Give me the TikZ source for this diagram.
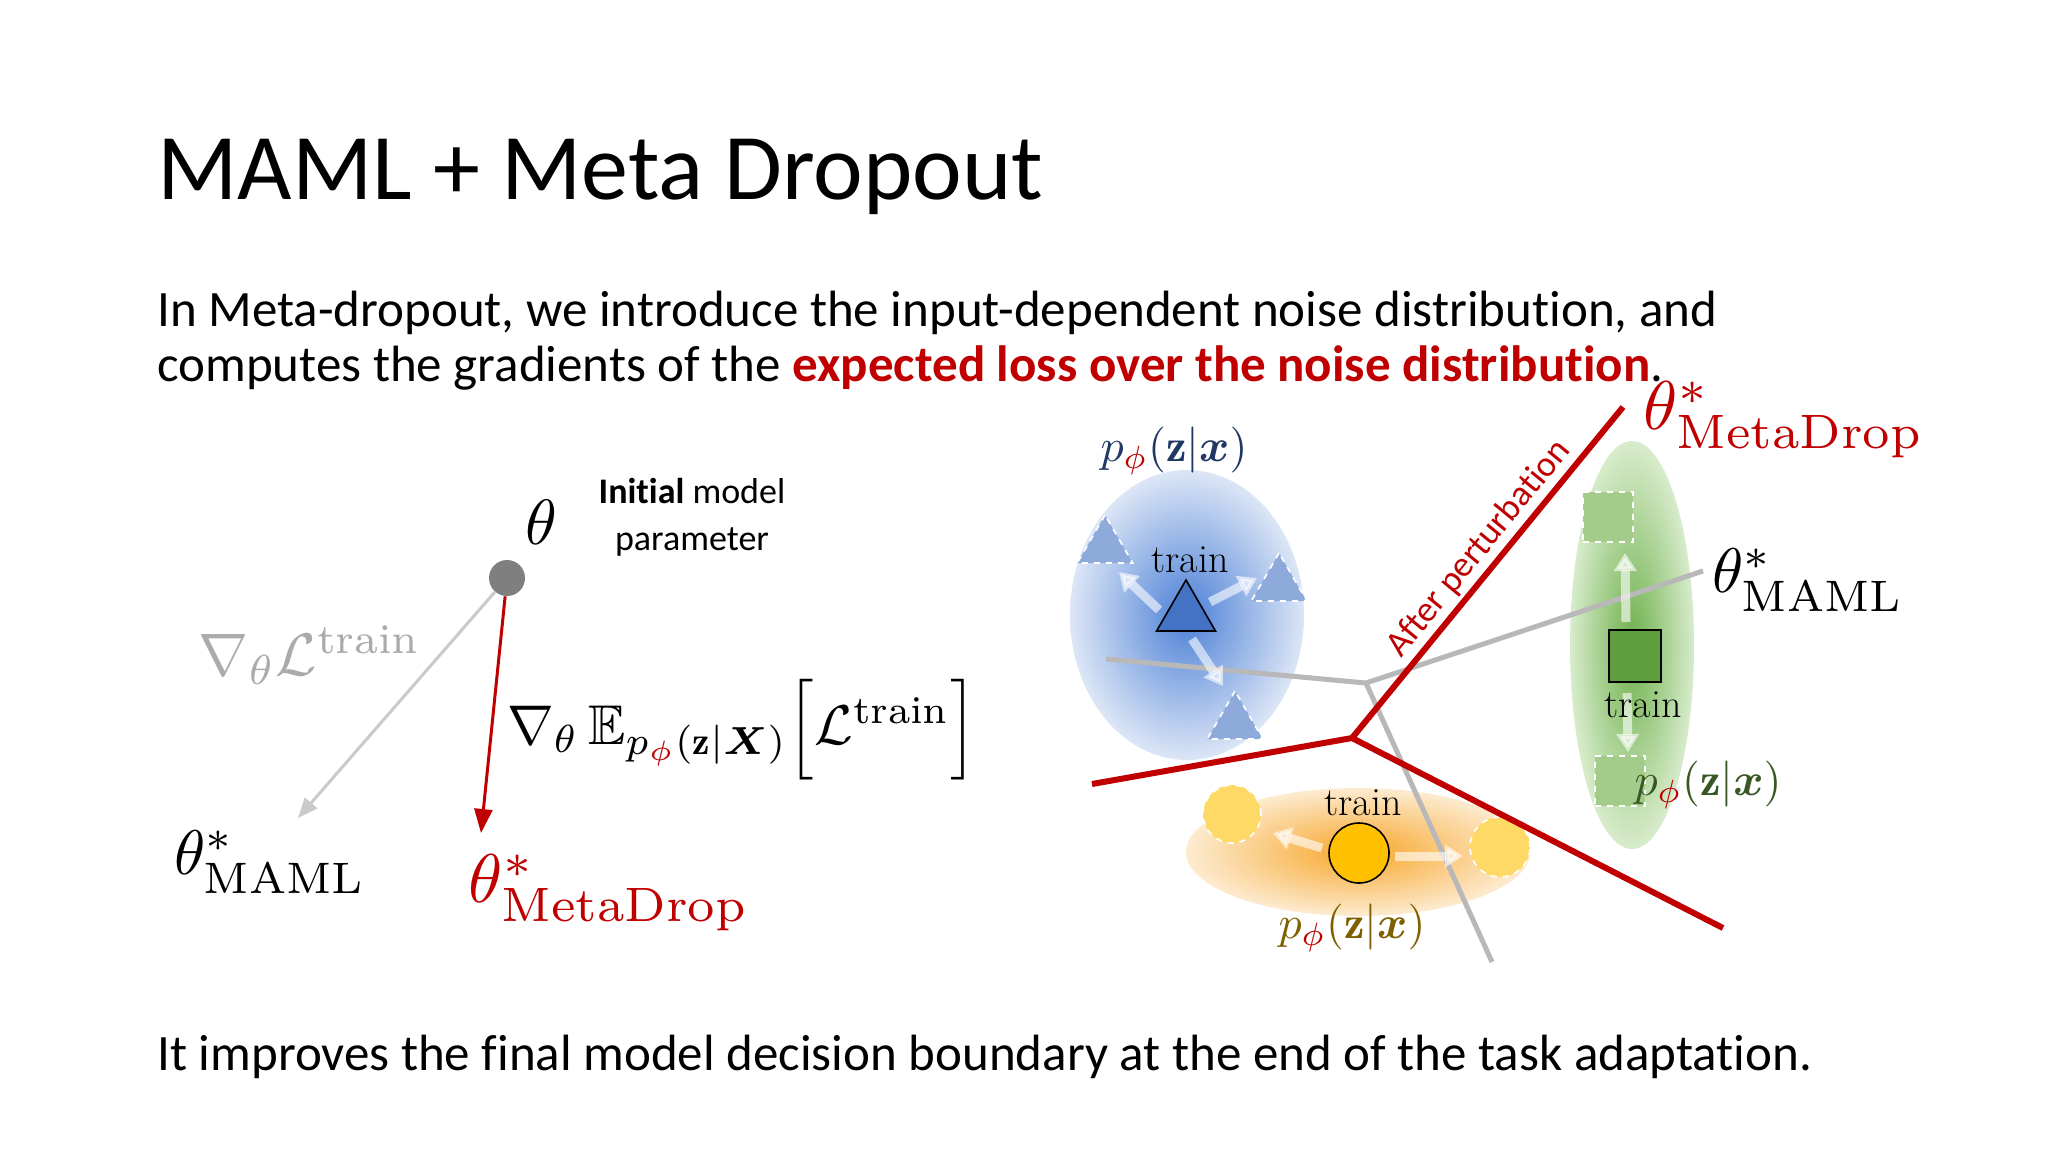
\documentclass[tikz,border=0pt]{standalone}
\usepackage{amsmath,amssymb,bm}
\usepackage{fontspec}
\usetikzlibrary{arrows.meta,shapes.geometric}
\newfontfamily\carlito{Carlito}[Ligatures=NoCommon]
\definecolor{dred}{HTML}{C00000}
\definecolor{navyl}{HTML}{1F3864}
\definecolor{dgreen}{HTML}{385723}
\definecolor{olivel}{HTML}{7F6000}
\definecolor{arrgray}{HTML}{CACACA}
\definecolor{labgray}{HTML}{ABABAB}
\definecolor{bndgray}{HTML}{B8B8B8}
\definecolor{dotgray}{HTML}{7F7F7F}
\definecolor{bluein}{HTML}{4C80D6}
\definecolor{blueout}{HTML}{DCE6F6}
\definecolor{greenin}{HTML}{6EB04C}
\definecolor{greenout}{HTML}{D8ECCC}
\definecolor{orangein}{HTML}{F7A62A}
\definecolor{orangeout}{HTML}{FDEBD0}
\definecolor{trifill}{HTML}{4472C4}
\definecolor{trifade}{HTML}{8EAADB}
\definecolor{sqfill}{HTML}{5E9E3E}
\definecolor{sqfade}{HTML}{A3CC8A}
\definecolor{cifill}{HTML}{FFC000}
\definecolor{cifade}{HTML}{FFD966}
\begin{document}
\begin{tikzpicture}[x=0.5pt,y=-0.5pt,
  titlef/.style={font=\carlito\fontsize{47}{57}\selectfont, anchor=base west, inner sep=0pt},
  bodyf/.style={font=\carlito\fontsize{25.5}{31}\selectfont, anchor=base west, inner sep=0pt},
  smallf/.style={font=\carlito\fontsize{18}{23.5}\selectfont, inner sep=0pt},
  mbig/.style={scale=3.45, inner sep=0pt},
  mmaml/.style={scale=3.15, inner sep=0pt},
  mmid/.style={scale=3.2, inner sep=0pt},
  mlab/.style={scale=2.3, inner sep=0pt},
  trainf/.style={font=\fontsize{20}{24}\selectfont, inner sep=0pt},
  bnd/.style={line width=2.5pt, bndgray},
  rbnd/.style={line width=3pt, dred},
  fadearr/.style={white, opacity=0.6, line width=4.5pt, -{Triangle[length=9pt,width=11pt]}},
  tri/.style={regular polygon, regular polygon sides=3, inner sep=0pt},
]
\useasboundingbox (0,0) rectangle (2048,1152);
\fill[white] (0,0) rectangle (2048,1152);

% ---------- texts ----------
\node[titlef] (title) at (157,199) {MAML + Meta Dropout};
\node[bodyf] (l1) at (157,326) {In Meta-dropout, we introduce the input-dependent noise distribution, and};
\node[bodyf] (l2) at (157,381) {computes the gradients of the {\color{dred}\bfseries expected loss over the noise distribution}.};
\node[bodyf] (l3) at (157,1070) {It improves the final model decision boundary at the end of the task adaptation.};

% ---------- left part ----------
\node[circle, fill=dotgray, minimum size=18pt, inner sep=0pt] (dot) at (507,578) {};
\node[mmid] (theta) at (541,522) {$\theta$};
\node[smallf, align=center] (init) at (692,517) {\textbf{Initial} model\\parameter};
\coordinate (gtip) at (298,818);
\coordinate (rtip) at (481,833);
\draw[arrgray, line width=1.5pt, -{Triangle[length=10pt,width=8pt]}] (dot) -- (gtip);
\draw[dred, line width=1.5pt, -{Triangle[length=12pt,width=9pt]}] (dot) -- (rtip);
\node[scale=3.0, inner sep=0pt, labgray] (glab) at (310,655) {$\nabla_{\theta}\mathcal{L}^{\mathrm{train}}$};
\node[scale=2.8, inner sep=0pt] (rlab) at (742,730) {$\nabla_{\theta}\,\mathbb{E}_{p_{\textcolor{dred}{\phi}}(\mathbf{z}|\boldsymbol{X})}\Big[\mathcal{L}^{\mathrm{train}}\Big]$};
\node[mmaml] (tmaml) at (270,862) {$\theta^{*}_{\mathrm{MAML}}$};
\node[mbig, dred] (tmeta) at (609,893) {$\theta^{*}_{\mathrm{MetaDrop}}$};

% ---------- right part: distributions ----------
\shade[inner color=bluein, outer color=blueout] (1187,615) ellipse [x radius=58.5pt, y radius=72.5pt];
\shade[inner color=greenin, outer color=greenout] (1632,645) ellipse [x radius=31pt, y radius=102pt];
\shade[inner color=orangein, outer color=orangeout] (1358,852) ellipse [x radius=86pt, y radius=32pt];

% boundaries
\coordinate (gJ) at (1366,683);
\coordinate (gL) at (1106,659);
\coordinate (gR) at (1703,571);
\coordinate (gB) at (1492,962);
\draw[bnd] (gL) -- (gJ) -- (gR);
\draw[bnd] (gJ) -- (gB);

% blue cluster
\node[tri, minimum size=32pt, fill=trifade, draw=white, dashed, line width=0.8pt] (bt1) at (1105,547) {};
\node[tri, minimum size=32pt, fill=trifade, draw=white, dashed, line width=0.8pt] (bt2) at (1279,585) {};
\node[tri, minimum size=32pt, fill=trifade, draw=white, dashed, line width=0.8pt] (bt3) at (1235,723) {};
\node[tri, minimum size=34pt, fill=trifill, draw=black, line width=0.8pt] (bmain) at (1186,614) {};
\coordinate (ba1s) at (1159,610); \coordinate (ba1e) at (1119,572);
\coordinate (ba2s) at (1210,602); \coordinate (ba2e) at (1257,578);
\coordinate (ba3s) at (1192,639); \coordinate (ba3e) at (1223,686);
\draw[fadearr] (ba1s) -- (ba1e);
\draw[fadearr] (ba2s) -- (ba2e);
\draw[fadearr] (ba3s) -- (ba3e);
\node[trainf] (btrain) at (1190,560) {train};
\node[mlab, navyl] (blab) at (1174,451) {$p_{\textcolor{dred}{\phi}}(\mathbf{z}|\boldsymbol{x})$};

% green cluster
\node[rectangle, minimum size=25pt, inner sep=0pt, fill=sqfade, draw=white, dashed, line width=0.8pt] (gs1) at (1608,517) {};
\node[rectangle, minimum size=25pt, inner sep=0pt, fill=sqfade, draw=white, dashed, line width=0.8pt] (gs2) at (1620,781) {};
\node[rectangle, minimum size=26pt, inner sep=0pt, fill=sqfill, draw=black, line width=0.8pt] (gmain) at (1635,656) {};
\coordinate (ga1s) at (1626,622); \coordinate (ga1e) at (1625,553);
\coordinate (ga2s) at (1627,693); \coordinate (ga2e) at (1628,752);
\draw[fadearr] (ga1s) -- (ga1e);
\draw[fadearr] (ga2s) -- (ga2e);
\node[trainf] (gtrain) at (1643,705) {train};
\node[mlab, dgreen] (glab2) at (1708,785) {$p_{\textcolor{dred}{\phi}}(\mathbf{z}|\boldsymbol{x})$};

% orange cluster
\node[circle, minimum size=29pt, inner sep=0pt, fill=cifade, draw=white, dashed, line width=0.8pt] (oc1) at (1232,814) {};
\node[circle, minimum size=30pt, inner sep=0pt, fill=cifade, draw=white, dashed, line width=0.8pt] (oc2) at (1500,847) {};
\node[circle, minimum size=30pt, inner sep=0pt, fill=cifill, draw=black, line width=0.8pt] (omain) at (1359,853) {};
\coordinate (oa1s) at (1322,848); \coordinate (oa1e) at (1273,833);
\coordinate (oa2s) at (1395,856); \coordinate (oa2e) at (1463,856);
\draw[fadearr] (oa1s) -- (oa1e);
\draw[fadearr] (oa2s) -- (oa2e);
\node[trainf] (otrain) at (1363,803) {train};
\node[mlab, olivel] (olab) at (1352,928) {$p_{\textcolor{dred}{\phi}}(\mathbf{z}|\boldsymbol{x})$};

% red boundary
\coordinate (rJ) at (1352,738);
\coordinate (rL) at (1092,784);
\coordinate (rT) at (1623,407);
\coordinate (rR) at (1723,928);
\draw[rbnd] (rL) -- (rJ) -- (rT);
\draw[rbnd] (rJ) -- (rR);
\path (rJ) -- (rT) node[pos=0.53, sloped, above=3pt, dred, inner sep=0pt, font=\carlito\fontsize{18}{22}\selectfont] (after) {After perturbation};

% right labels
\node[mbig, dred] (rmeta) at (1784,420) {$\theta^{*}_{\mathrm{MetaDrop}}$};
\node[mmaml] (rmaml) at (1808,580) {$\theta^{*}_{\mathrm{MAML}}$};
\end{tikzpicture}
\end{document}
